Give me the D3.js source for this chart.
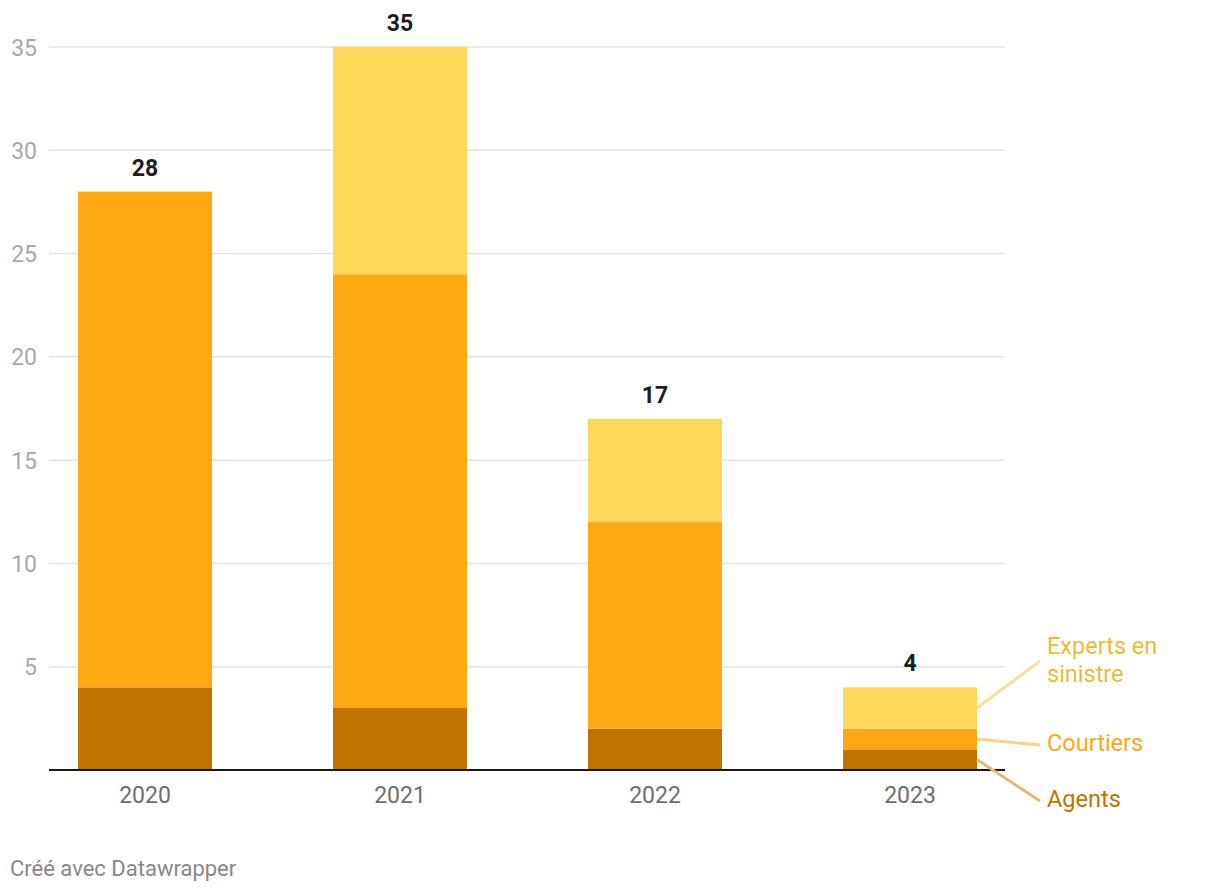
<!DOCTYPE html>
<html><head><meta charset="utf-8">
<script src="https://cdn.jsdelivr.net/npm/d3@7"></script>
<style>body{margin:0;background:#fff;font-family:Roboto,sans-serif;}</style>
</head><body><svg id="c" width="1220" height="892"></svg>
<script>
const years = ["2020","2021","2022","2023"];
const agents = [4,3,2,1];
const courtiers = [24,21,10,1];
const experts = [0,11,5,2];
const yTicks = [5,10,15,20,25,30,35];
const seriesNames = ["Agents","Courtiers","Experts en sinistre"];

const colors = {Agents:"#c07400", Courtiers:"#fea914", "Experts en sinistre":"#ffd75a"};
const labelColors = {Agents:"#c07400", Courtiers:"#fea914", "Experts en sinistre":"#ebbb3a"};
const lineColors = {Agents:"#dfb97f", Courtiers:"#ffd28a", "Experts en sinistre":"#f6e1a0"};

const svg = d3.select("#c");
const y = d3.scaleLinear().domain([0,35]).range([770,47]);
const x = d3.scaleBand().domain(years).range([17.5,1037.5]).paddingInner(0.4745).paddingOuter(0.23725);

// grid
svg.append("g").selectAll("line").data(yTicks).join("line")
  .attr("x1",49).attr("x2",1005).attr("y1",d=>y(d)).attr("y2",d=>y(d))
  .attr("stroke","#e3e3e3").attr("stroke-width",1.5);
svg.append("g").selectAll("text").data(yTicks).join("text")
  .attr("x",37).attr("y",d=>y(d)+8.5).attr("text-anchor","end")
  .attr("font-size",23).attr("fill","#a8a8a8").text(d=>d);

const rows = years.map((yr,i)=>({year:yr, Agents:agents[i], Courtiers:courtiers[i], "Experts en sinistre":experts[i]}));
const stack = d3.stack().keys(seriesNames)(rows);

svg.append("g").selectAll("g").data(stack).join("g")
  .attr("fill",d=>colors[d.key])
  .selectAll("rect").data(d=>d).join("rect")
  .attr("x",d=>x(d.data.year)).attr("width",x.bandwidth())
  .attr("y",d=>y(d[1])).attr("height",d=>y(d[0])-y(d[1]));

// baseline
svg.append("line").attr("x1",49).attr("x2",1005).attr("y1",y(0)).attr("y2",y(0))
  .attr("stroke","#1a1a1a").attr("stroke-width",2);

// totals
svg.append("g").selectAll("text").data(rows).join("text")
  .attr("x",d=>x(d.year)+x.bandwidth()/2)
  .attr("y",d=>y(d.Agents+d.Courtiers+d["Experts en sinistre"])-16)
  .attr("text-anchor","middle").attr("font-size",23).attr("font-weight","bold").attr("fill","#1d1d1d")
  .text(d=>d.Agents+d.Courtiers+d["Experts en sinistre"]);

// x labels
svg.append("g").selectAll("text").data(years).join("text")
  .attr("x",d=>x(d)+x.bandwidth()/2).attr("y",803).attr("text-anchor","middle")
  .attr("font-size",23).attr("fill","#6e6e6e").text(d=>d);

// direct labels
const last = stack.map(s=>({key:s.key, v:s[s.length-1]}));
const xEnd = x(years[3])+x.bandwidth();
const labelPos = {"Experts en sinistre":{ly:661, ty:[654,682]}, Courtiers:{ly:745, ty:[751]}, Agents:{ly:801, ty:[807]}};
const lines = {"Experts en sinistre":["Experts en","sinistre"], Courtiers:["Courtiers"], Agents:["Agents"]};
last.forEach(l=>{
  const mid = y((l.v[0]+l.v[1])/2);
  const p = labelPos[l.key];
  svg.append("line").attr("x1",xEnd).attr("y1",mid).attr("x2",1040).attr("y2",p.ly)
    .attr("stroke",lineColors[l.key]).attr("stroke-width",3);
  lines[l.key].forEach((t,i)=>{
    svg.append("text").attr("x",1047).attr("y",p.ty[i]).attr("font-size",23.5)
      .attr("fill",labelColors[l.key]).text(t);
  });
});

svg.append("text").attr("x",10).attr("y",876).attr("font-size",22).attr("fill","#888").text("Créé avec Datawrapper");
</script></body></html>
